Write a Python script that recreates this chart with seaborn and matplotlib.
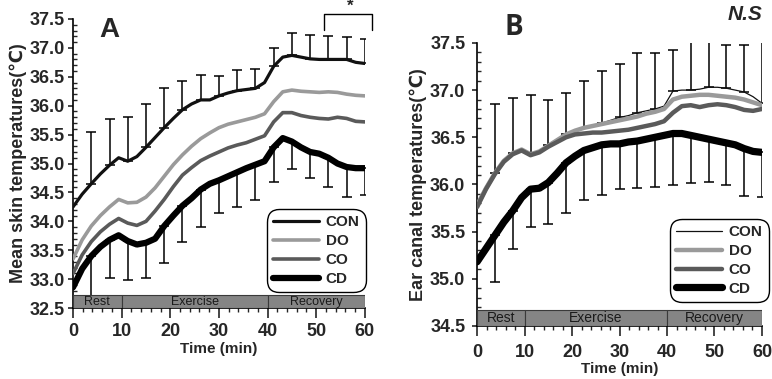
import numpy as np
import matplotlib.pyplot as plt
import seaborn as sns
from matplotlib.lines import Line2D
from matplotlib.ticker import MultipleLocator

sns.set_style("ticks")
plt.rcParams['font.family'] = ['Liberation Sans', 'DejaVu Sans']

# time grid (min)
time = [0, 1.875, 3.75, 5.625, 7.5, 9.375, 11.25, 13.125, 15, 16.875, 18.75,
        20.625, 22.5, 24.375, 26.25, 28.125, 30, 31.875, 33.75, 35.625, 37.5,
        39.375, 41.25, 43.125, 45, 46.875, 48.75, 50.625, 52.5, 54.375, 56.25,
        58.125, 60]

# Panel A: mean skin temperature
skin_con = [34.25, 34.47, 34.65, 34.82, 34.97, 35.10, 35.04, 35.12, 35.28, 35.45, 35.62,
            35.78, 35.93, 36.03, 36.10, 36.10, 36.17, 36.22, 36.26, 36.28, 36.30,
            36.40, 36.68, 36.84, 36.87, 36.84, 36.81, 36.80, 36.80, 36.80, 36.80,
            36.75, 36.73]
skin_do = [33.35, 33.68, 33.92, 34.10, 34.25, 34.38, 34.32, 34.33, 34.42, 34.58, 34.78,
           34.98, 35.15, 35.30, 35.43, 35.53, 35.62, 35.68, 35.72, 35.76, 35.80,
           35.86, 36.07, 36.24, 36.27, 36.25, 36.24, 36.23, 36.24, 36.23, 36.20,
           36.18, 36.17]
skin_co = [33.10, 33.42, 33.65, 33.82, 33.95, 34.05, 33.97, 33.93, 34.00, 34.18, 34.38,
           34.60, 34.80, 34.93, 35.05, 35.13, 35.20, 35.27, 35.32, 35.36, 35.42,
           35.48, 35.72, 35.88, 35.88, 35.83, 35.80, 35.78, 35.77, 35.80, 35.78,
           35.73, 35.72]
skin_cd = [32.86, 33.18, 33.40, 33.56, 33.68, 33.76, 33.66, 33.60, 33.63, 33.70, 33.92,
           34.10, 34.27, 34.40, 34.55, 34.65, 34.71, 34.78, 34.85, 34.92, 34.98,
           35.04, 35.28, 35.44, 35.38, 35.28, 35.20, 35.17, 35.10, 35.00, 34.94,
           34.92, 34.92]
# SD at every second time point (3.75, 7.5, ... 60)
skin_con_sd = [0.90, 0.80, 0.76, 0.75, 0.68, 0.50, 0.43, 0.34, 0.36, 0.34,
               0.32, 0.38, 0.42, 0.40, 0.38, 0.42]
skin_cd_sd = [0.71, 0.66, 0.68, 0.61, 0.64, 0.63, 0.65, 0.57, 0.60, 0.61,
              0.60, 0.47, 0.45, 0.50, 0.52, 0.46]

# Panel B: ear canal temperature
ear_con = [35.80, 35.97, 36.12, 36.25, 36.33, 36.37, 36.32, 36.36, 36.42, 36.48, 36.53,
           36.57, 36.60, 36.62, 36.65, 36.68, 36.71, 36.73, 36.76, 36.78, 36.80,
           36.83, 36.99, 37.00, 37.00, 37.01, 37.03, 37.03, 37.02, 37.00, 36.98,
           36.93, 36.86]
ear_do = [35.78, 35.96, 36.12, 36.25, 36.33, 36.37, 36.32, 36.35, 36.41, 36.47, 36.53,
          36.57, 36.60, 36.62, 36.64, 36.66, 36.68, 36.70, 36.72, 36.75, 36.77,
          36.80, 36.90, 36.93, 36.94, 36.95, 36.95, 36.94, 36.93, 36.92, 36.90,
          36.87, 36.84]
ear_co = [35.76, 35.95, 36.11, 36.24, 36.32, 36.36, 36.31, 36.34, 36.40, 36.45, 36.50,
          36.53, 36.54, 36.55, 36.55, 36.56, 36.57, 36.58, 36.60, 36.62, 36.64,
          36.67, 36.76, 36.83, 36.84, 36.82, 36.84, 36.85, 36.84, 36.82, 36.79,
          36.78, 36.80]
ear_cd = [35.18, 35.32, 35.46, 35.60, 35.72, 35.86, 35.95, 35.96, 36.02, 36.12, 36.23,
          36.30, 36.36, 36.39, 36.42, 36.43, 36.43, 36.45, 36.46, 36.48, 36.50,
          36.52, 36.54, 36.54, 36.52, 36.50, 36.48, 36.46, 36.44, 36.42, 36.38,
          36.35, 36.34]
ear_con_sd = [0.73, 0.59, 0.63, 0.48, 0.44, 0.50, 0.55, 0.57, 0.63, 0.59,
              0.44, 0.51, 0.48, 0.46, 0.50, 0.68]
ear_cd_sd = [0.49, 0.40, 0.40, 0.44, 0.53, 0.52, 0.53, 0.48, 0.50, 0.53,
             0.55, 0.50, 0.45, 0.45, 0.50, 0.47]

groups = ["CON", "DO", "CO", "CD"]
phase_names = ["Rest", "Exercise", "Recovery"]
phase_start = [0, 10, 40]
phase_end = [10, 40, 60]

colors = {"CON": "#111111", "DO": "#9a9a9a", "CO": "#5a5a5a", "CD": "#000000"}

fig = plt.figure(figsize=(7.72, 3.79), dpi=100)
axA = fig.add_axes([0.0946, 0.187, 0.378, 0.763])
axB = fig.add_axes([0.618, 0.140, 0.369, 0.7467])


def draw_panel(ax, series, widths, con_sd, cd_sd, ylim, bar_h, bar_fs, ylabel,
               leg_box, ypad, xpad):
    t = np.array(time)
    for g in groups:
        sns.lineplot(x=time, y=series[g], ax=ax, color=colors[g],
                     linewidth=widths[g], zorder=3, legend=False)
    te = t[2::2]
    ax.errorbar(te, np.array(series["CON"])[2::2],
                yerr=[np.zeros(len(te)), con_sd], fmt='none', ecolor='black',
                elinewidth=1.1, capsize=3.5, capthick=1.1, zorder=2)
    ax.errorbar(te, np.array(series["CD"])[2::2],
                yerr=[cd_sd, np.zeros(len(te))], fmt='none', ecolor='black',
                elinewidth=1.1, capsize=3.5, capthick=1.1, zorder=2)
    # phase bar
    widths_ph = [e - s for s, e in zip(phase_start, phase_end)]
    ax.bar(phase_start, [bar_h] * 3, width=widths_ph, bottom=ylim[0], align='edge',
           color='#858585', edgecolor='#3a3a3a', linewidth=0.8, zorder=4)
    for name, s, e in zip(phase_names, phase_start, phase_end):
        ax.text((s + e) / 2, ylim[0] + bar_h / 2, name, ha='center', va='center',
                fontsize=bar_fs, color='#1a1a1a', zorder=5)
    ax.set_xlim(0, 60)
    ax.set_ylim(*ylim)
    ax.xaxis.set_major_locator(MultipleLocator(10))
    ax.xaxis.set_minor_locator(MultipleLocator(2))
    ax.yaxis.set_major_locator(MultipleLocator(0.5))
    ax.yaxis.set_minor_locator(MultipleLocator(0.1))
    ax.tick_params(axis='x', which='major', direction='out', length=7, width=1.2,
                   labelsize=13, pad=xpad)
    ax.tick_params(axis='y', which='major', direction='out', length=3.5, width=1.2,
                   labelsize=13, pad=ypad)
    ax.tick_params(axis='x', which='minor', direction='out', length=3, width=1)
    ax.tick_params(axis='y', which='minor', direction='in', length=3, width=1)
    for lab in ax.get_xticklabels() + ax.get_yticklabels():
        lab.set_fontweight('bold')
    ax.yaxis.set_major_formatter(plt.FormatStrFormatter('%.1f'))
    for s in ['top', 'right']:
        ax.spines[s].set_visible(False)
    for s in ['left', 'bottom']:
        ax.spines[s].set_linewidth(1.2)
        ax.spines[s].set_color('black')
    ax.set_xlabel("Time (min)", fontsize=11, fontweight='bold', labelpad=1)
    ax.set_ylabel(ylabel, fontsize=13, fontweight='bold', labelpad=2)
    handles = [Line2D([0], [0], color=colors[g], linewidth=widths[g],
                      solid_capstyle='round') for g in groups]
    leg = ax.legend(handles, groups, loc='lower left', bbox_to_anchor=leg_box,
                    frameon=True, fancybox=True, edgecolor='black', framealpha=1,
                    prop={'weight': 'bold', 'size': 11}, handlelength=3.0,
                    handletextpad=0.45, labelspacing=0.32, borderpad=0.4,
                    borderaxespad=0)
    frame = leg.get_frame()
    frame.set_linewidth(1.0)
    frame.set_boxstyle('round', pad=0, rounding_size=0.8)
    leg.set_zorder(6)


draw_panel(axA, {"CON": skin_con, "DO": skin_do, "CO": skin_co, "CD": skin_cd},
           {"CON": 2.3, "DO": 2.6, "CO": 2.6, "CD": 4.5},
           skin_con_sd, skin_cd_sd, (32.5, 37.5), 0.22, 9,
           "Mean skin temperatures(\u2103)", (0.664, 0.055), 2.5, 4)
draw_panel(axB, {"CON": ear_con, "DO": ear_do, "CO": ear_co, "CD": ear_cd},
           {"CON": 0.9, "DO": 3.2, "CO": 3.2, "CD": 5.2},
           ear_con_sd, ear_cd_sd, (34.5, 37.5), 0.17, 10,
           "Ear canal temperatures(\u2103)", (0.677, 0.085), 5, 6)

# panel letters and significance marks
axA.text(7.4, 37.31, "A", fontsize=20, fontweight='bold', ha='center', va='center')
axB.text(7.8, 37.66, "B", fontsize=20, fontweight='bold', ha='center', va='center',
         family=['Open Sans', 'DejaVu Sans'], clip_on=False)
axB.text(56.5, 37.80, "N.S", fontsize=15, fontweight='bold', style='italic',
         ha='center', va='center', clip_on=False)
axA.plot([51.5, 51.5, 61.4, 61.4], [37.31, 37.59, 37.59, 37.31], color='black',
         linewidth=1.0, clip_on=False)
axA.text(56.9, 37.72, "*", fontsize=12, fontweight='bold', ha='center', va='center',
         clip_on=False)

fig.savefig("out.png", dpi=100)
